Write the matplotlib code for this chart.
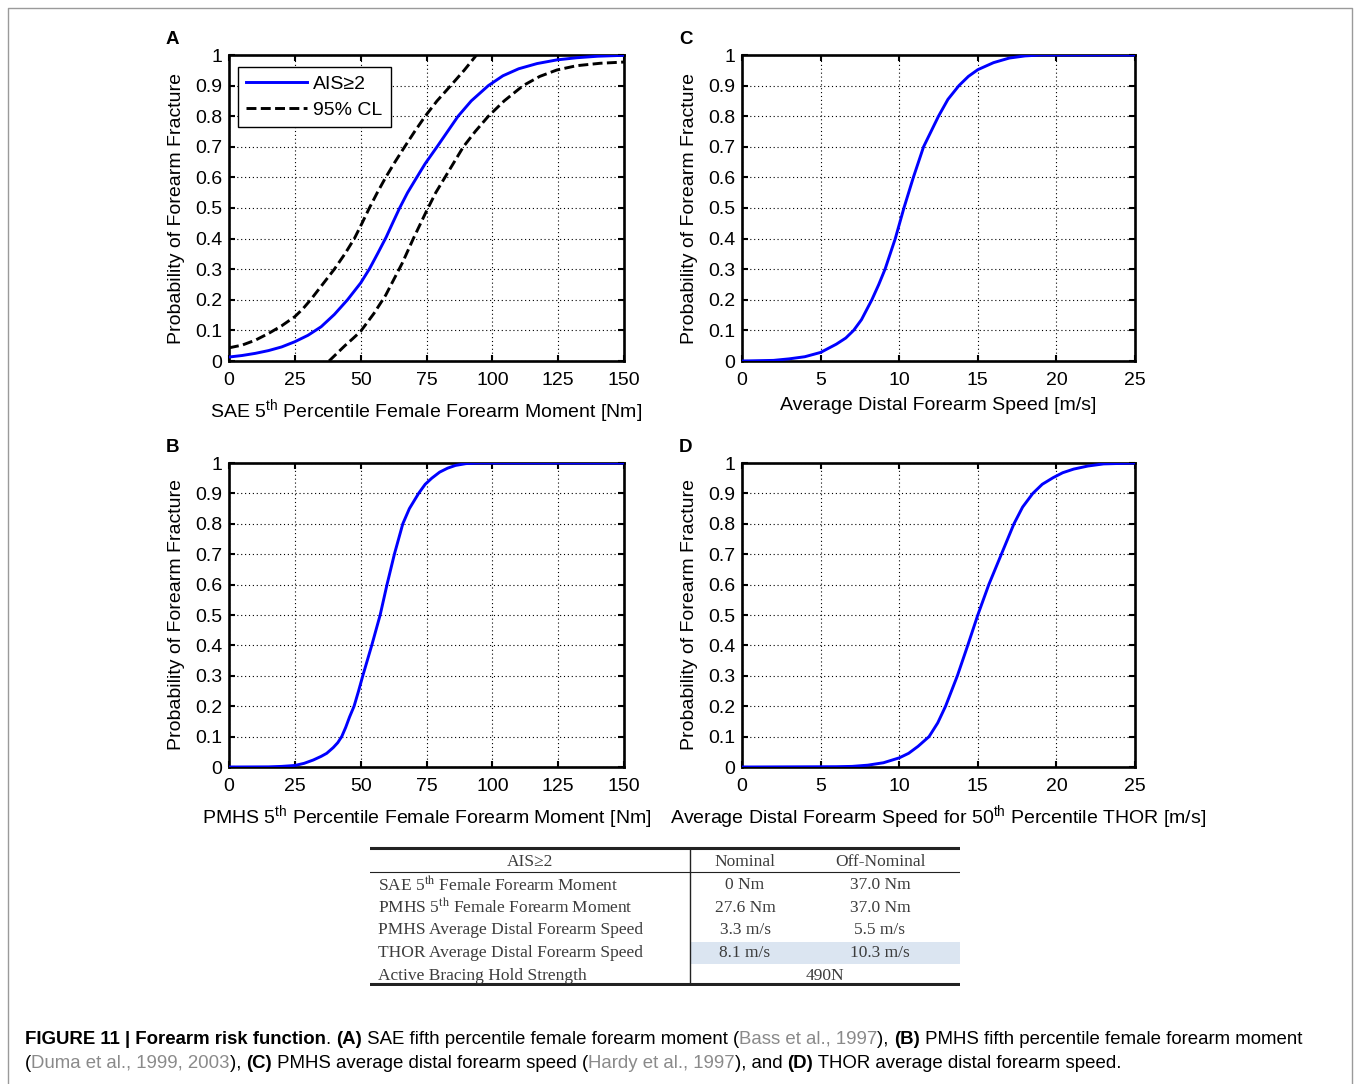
import matplotlib.pyplot as plt
from matplotlib.lines import Line2D

plt.rcParams['font.family'] = ['Liberation Sans', 'DejaVu Sans']
plt.rcParams['mathtext.fontset'] = 'custom'
plt.rcParams['mathtext.rm'] = 'Liberation Sans'
plt.rcParams['mathtext.it'] = 'Liberation Sans:italic'
plt.rcParams['mathtext.bf'] = 'Liberation Sans:bold'

# ---------------- risk curves ----------------
# (A) SAE 5th percentile female forearm moment [Nm]
sae_x = [0, 5, 10, 15, 20, 25, 30, 35, 40, 45, 50, 53.4, 56.5, 59.7, 62.2, 64.8, 67.8,
         71.3, 74.5, 79, 83, 87, 92, 98.5, 104, 110, 117, 124.5, 132, 140, 150]
sae_p = [0.013, 0.018, 0.025, 0.034, 0.046, 0.063, 0.084, 0.112, 0.152, 0.2, 0.255, 0.302,
         0.352, 0.405, 0.452, 0.5, 0.55, 0.6, 0.645, 0.7, 0.75, 0.8, 0.85, 0.9, 0.932,
         0.955, 0.972, 0.984, 0.991, 0.996, 0.999]
sae_up_x = [0, 5, 10, 15, 20, 25, 28, 31, 35.5, 40, 44, 47.6, 50.5, 53.3, 56.3, 59.5, 63,
            66.7, 70.5, 74.5, 79, 84.2, 89.3, 94]
sae_up_p = [0.043, 0.052, 0.068, 0.09, 0.115, 0.145, 0.17, 0.2, 0.25, 0.3, 0.35, 0.4,
            0.45, 0.5, 0.55, 0.6, 0.65, 0.7, 0.75, 0.8, 0.85, 0.9, 0.95, 1.0]
sae_lo_x = [38, 41, 44, 47, 50, 55, 59.5, 62.5, 65.8, 70, 72.5, 75, 78.5, 82, 85.5, 89,
            93.5, 98.5, 104.5, 111.7, 118, 124.5, 132, 141, 150]
sae_lo_p = [0.0, 0.025, 0.05, 0.073, 0.097, 0.155, 0.215, 0.265, 0.32, 0.4, 0.445, 0.49,
            0.55, 0.6, 0.65, 0.7, 0.75, 0.8, 0.85, 0.9, 0.93, 0.951, 0.965, 0.973, 0.977]

# (B) PMHS 5th percentile female forearm moment [Nm]
pmhs_x = [0, 15, 20, 25, 28.5, 32, 35, 37.1, 39.6, 41.3, 42.8, 44.3, 45.8, 47.5, 49.2,
          50.8, 52.5, 54.2, 57.4, 60, 62.8, 66, 68.5, 72, 74.5, 77, 80, 83, 86, 90, 95, 150]
pmhs_p = [0.0, 0.0005, 0.002, 0.005, 0.012, 0.023, 0.035, 0.045, 0.064, 0.08, 0.1, 0.13,
          0.165, 0.2, 0.25, 0.3, 0.35, 0.4, 0.5, 0.6, 0.7, 0.8, 0.85, 0.9, 0.93, 0.95,
          0.97, 0.983, 0.992, 0.998, 1.0, 1.0]

# (C) PMHS average distal forearm speed [m/s]
spd_x = [0, 2, 3, 4, 5, 6, 6.6, 7.1, 7.6, 8.26, 8.7, 9.1, 9.75, 10.3, 10.9, 11.55, 12.5,
         13.1, 13.8, 14.4, 15, 16, 17, 18, 19, 25]
spd_p = [0.0, 0.002, 0.007, 0.014, 0.028, 0.055, 0.075, 0.1, 0.135, 0.2, 0.25, 0.3, 0.4,
         0.5, 0.6, 0.7, 0.8, 0.855, 0.9, 0.93, 0.952, 0.975, 0.99, 0.997, 1.0, 1.0]

# (D) THOR average distal forearm speed [m/s]
thor_x = [0, 6, 7, 8, 9, 10, 10.6, 11.2, 11.9, 12.45, 12.95, 13.7, 14.36, 15, 15.7, 16.5,
          17.3, 17.85, 18.5, 19.1, 19.8, 20.4, 21.1, 22, 23, 25]
thor_p = [0.0, 0.001, 0.002, 0.006, 0.014, 0.03, 0.045, 0.068, 0.1, 0.145, 0.2, 0.3, 0.4,
          0.5, 0.6, 0.7, 0.8, 0.855, 0.9, 0.93, 0.952, 0.968, 0.98, 0.99, 0.997, 1.0]

y_ticks = [0, 0.1, 0.2, 0.3, 0.4, 0.5, 0.6, 0.7, 0.8, 0.9, 1]
y_labels = ['0', '0.1', '0.2', '0.3', '0.4', '0.5', '0.6', '0.7', '0.8', '0.9', '1']
moment_ticks = [0, 25, 50, 75, 100, 125, 150]
speed_ticks = [0, 5, 10, 15, 20, 25]

# ---------------- table ----------------
table_header = ['AIS\u22652', 'Nominal', 'Off-Nominal']
table_rows = [
    ['SAE 5$^{\\mathrm{th}}$ Female Forearm Moment', '0 Nm', '37.0 Nm'],
    ['PMHS 5$^{\\mathrm{th}}$ Female Forearm Moment', '27.6 Nm', '37.0 Nm'],
    ['PMHS Average Distal Forearm Speed', '3.3 m/s', '5.5 m/s'],
    ['THOR Average Distal Forearm Speed', '8.1 m/s', '10.3 m/s'],
    ['Active Bracing Hold Strength', '490N', None],
]
highlight_row = 3

W, H = 1356, 1084
fig = plt.figure(figsize=(W / 100, H / 100), dpi=100)


def px_axes(x0, y0, x1, y1):
    return fig.add_axes([x0 / W, 1 - y1 / H, (x1 - x0) / W, (y1 - y0) / H])


def style(ax, xticks, xlabel, letter):
    ax.set_xlim(xticks[0], xticks[-1])
    ax.set_ylim(0, 1)
    ax.set_xticks(xticks)
    ax.set_yticks(y_ticks)
    ax.set_yticklabels(y_labels)
    ax.grid(True, color='black', linestyle=(0, (1, 2.5)), linewidth=0.8)
    ax.tick_params(direction='in', top=True, right=True, length=4, width=1.5,
                   labelsize=14, pad=5)
    ax.tick_params(axis='x', pad=8)
    for s in ax.spines.values():
        s.set_linewidth(1.9)
    ax.set_xlabel(xlabel, fontsize=14, labelpad=6)
    ax.set_ylabel('Probability of Forearm Fracture', fontsize=14, labelpad=7)
    ax.text(-0.143, 1.05, letter, transform=ax.transAxes, fontsize=13.5,
            fontweight='bold', ha='center', va='center')


blue = '#0000ff'
lw = 2.1
dash = (0, (3.4, 1.5))

axA = px_axes(229, 55, 624, 361)
axA.plot(sae_x, sae_p, color=blue, lw=lw, label='AIS\u22652', zorder=3)
axA.plot(sae_up_x, sae_up_p, color='black', lw=lw, ls=dash, label='95% CL', zorder=3)
axA.plot(sae_lo_x, sae_lo_p, color='black', lw=lw, ls=dash, zorder=3)
style(axA, moment_ticks, 'SAE 5$^{\\mathrm{th}}$ Percentile Female Forearm Moment [Nm]', 'A')
leg = axA.legend(loc='upper left', bbox_to_anchor=(0.023, 0.961), borderaxespad=0,
                 fancybox=False, edgecolor='black', framealpha=1, fontsize=14,
                 handlelength=3.1, handletextpad=0.35, borderpad=0.42, labelspacing=0.45)
leg.get_frame().set_linewidth(1.0)

axC = px_axes(742, 55, 1135, 361)
axC.plot(spd_x, spd_p, color=blue, lw=lw, zorder=3)
style(axC, speed_ticks, 'Average Distal Forearm Speed [m/s]', 'C')

axB = px_axes(229, 463, 624, 767)
axB.plot(pmhs_x, pmhs_p, color=blue, lw=lw, zorder=3)
style(axB, moment_ticks, 'PMHS 5$^{\\mathrm{th}}$ Percentile Female Forearm Moment [Nm]', 'B')

axD = px_axes(742, 463, 1135, 767)
axD.plot(thor_x, thor_p, color=blue, lw=lw, zorder=3)
style(axD, speed_ticks,
      'Average Distal Forearm Speed for 50$^{\\mathrm{th}}$ Percentile THOR [m/s]', 'D')

# table drawn in its own pixel-scaled axes
tax = px_axes(370, 846, 960, 986)
tax.set_xlim(0, 590)
tax.set_ylim(140, 0)
tax.axis('off')
row_h = 22.8
split = 320
col_c = [375, 510]
tcol = '#3c3c3c'
tfont = dict(family=['Liberation Serif', 'DejaVu Serif'], fontsize=12.5, color=tcol,
             va='center', math_fontfamily='stix')
y0 = 16
tax.fill_between([split + 1, 590], y0 + (highlight_row + 1) * row_h - row_h / 2,
                 y0 + (highlight_row + 2) * row_h - row_h / 2 - 1, color='#dbe5f1', lw=0)
tax.text(160, y0, table_header[0], ha='center', **tfont)
tax.text(col_c[0], y0, table_header[1], ha='center', **tfont)
tax.text(col_c[1], y0, table_header[2], ha='center', **tfont)
for i, row in enumerate(table_rows):
    y = y0 + (i + 1) * row_h
    tax.text(8, y, row[0], ha='left', **tfont)
    if row[2] is None:
        tax.text(455, y, row[1], ha='center', **tfont)
    else:
        tax.text(col_c[0], y, row[1], ha='center', **tfont)
        tax.text(col_c[1], y, row[2], ha='center', **tfont)
tax.add_line(Line2D([0, 590], [2, 2], color='#222', lw=2.2))
tax.add_line(Line2D([0, 590], [26, 26], color='#222', lw=0.8))
tax.add_line(Line2D([0, 590], [138, 138], color='#222', lw=2.2))
tax.add_line(Line2D([split, split], [2, 138], color='#222', lw=1.0))

# caption with mixed styles
grey = '#8a8a8a'
cap_lines = [
    [('FIGURE 11 | Forearm risk function', 'bold', 'black'), ('. ', 'normal', 'black'),
     ('(A)', 'bold', 'black'), (' SAE fifth percentile female forearm moment (', 'normal', 'black'),
     ('Bass et al., 1997', 'normal', grey), ('), ', 'normal', 'black'),
     ('(B)', 'bold', 'black'), (' PMHS fifth percentile female forearm moment', 'normal', 'black')],
    [('(', 'normal', 'black'), ('Duma et al., 1999, 2003', 'normal', grey),
     ('), ', 'normal', 'black'), ('(C)', 'bold', 'black'),
     (' PMHS average distal forearm speed (', 'normal', 'black'),
     ('Hardy et al., 1997', 'normal', grey), ('), and ', 'normal', 'black'),
     ('(D)', 'bold', 'black'), (' THOR average distal forearm speed.', 'normal', 'black')],
]
cap_y = [1039, 1063]
cap_size = 13.4
renderer = fig.canvas.get_renderer()


def text_width(s, weight):
    # bracket the string so leading/trailing spaces are counted
    t1 = fig.text(0, 0, '|' + s + '|', fontsize=cap_size, fontweight=weight)
    t2 = fig.text(0, 0, '||', fontsize=cap_size, fontweight=weight)
    w = t1.get_window_extent(renderer).width - t2.get_window_extent(renderer).width
    t1.remove()
    t2.remove()
    return w


for pieces, yy in zip(cap_lines, cap_y):
    x = 25
    for s, weight, c in pieces:
        fig.text(x / W, 1 - yy / H, s, fontsize=cap_size, fontweight=weight, color=c,
                 ha='left', va='center')
        x += text_width(s, weight)

# frame around the whole figure
fig.add_artist(Line2D([8 / W, 8 / W, 1352 / W, 1352 / W], [0, 1 - 8 / H, 1 - 8 / H, 0],
                      transform=fig.transFigure, color='#9a9a9a', lw=1.0))

fig.savefig('out.png', dpi=100)
